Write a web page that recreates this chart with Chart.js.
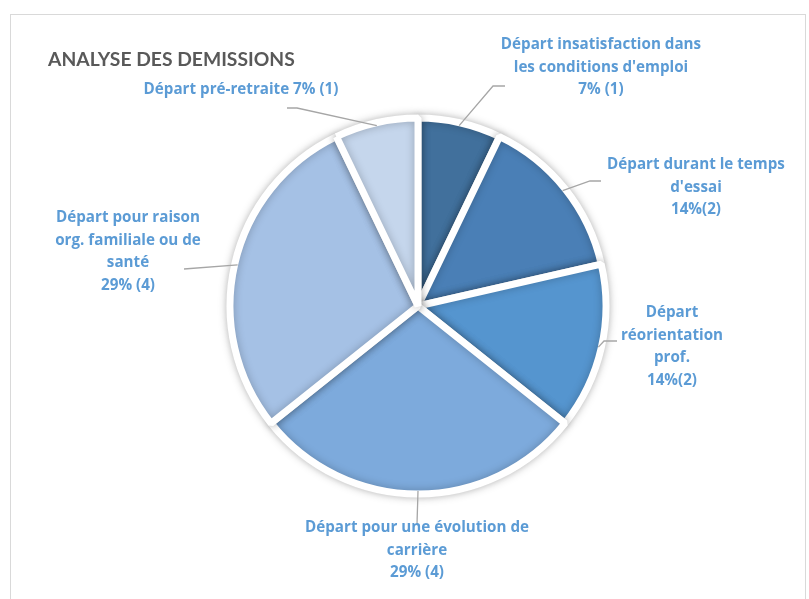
<!DOCTYPE html>
<html>
<head>
<meta charset="utf-8">
<script src="https://cdn.jsdelivr.net/npm/chart.js@4"></script>
<style>
  body { margin: 0; background: #fff; }
  #frame { position: absolute; left: 10px; top: 14px; width: 794px; height: 600px; border: 1px solid #D9D9D9; }
  #wrap { position: absolute; left: 0; top: 0; width: 809px; height: 599px; }
</style>
</head>
<body>
<div id="frame"></div>
<div id="wrap"><canvas id="chart"></canvas></div>
<script>
const title = 'ANALYSE DES DEMISSIONS';

const categories = [
  "Départ insatisfaction dans les conditions d'emploi",
  "Départ durant le temps d'essai",
  "Départ réorientation prof.",
  "Départ pour une évolution de carrière",
  "Départ pour raison org. familiale ou de santé",
  "Départ pré-retraite"
];
const counts = [1, 2, 2, 4, 4, 1];
const percentLabels = ['7% (1)', '14%(2)', '14%(2)', '29% (4)', '29% (4)', '7% (1)'];

// how each label is wrapped, as in the original
const labelLines = [
  ['Départ insatisfaction dans', "les conditions d'emploi", '7% (1)'],
  ['Départ durant le temps', "d'essai", '14%(2)'],
  ['Départ', 'réorientation', 'prof.', '14%(2)'],
  ['Départ pour une évolution de', 'carrière', '29% (4)'],
  ['Départ pour raison', 'org. familiale ou de', 'santé', '29% (4)'],
  ['Départ pré-retraite 7% (1)']
];

const colors = ['#41709C', '#4A7FB6', '#5595CF', '#7DAADC', '#A5C1E5', '#C5D6EC'];

// label placement: text centre x, first line y, leader elbow + end
const labelLayout = [
  { x: 601, y: 45, elbow: [493, 86], end: [505, 86] },
  { x: 696, y: 165, elbow: [590, 181], end: [601, 181] },
  { x: 672, y: 313, elbow: [604, 341], end: [617, 341] },
  { x: 417, y: 528, elbow: null, end: [417, 524] },
  { x: 128, y: 218, elbow: null, end: [184, 269] },
  { x: 241, y: 90, elbow: [297, 108], end: [287, 108] }
];

const shadowPlugin = {
  id: 'shadow',
  beforeDatasetsDraw(chart) {
    const ctx = chart.ctx;
    ctx.save();
    ctx.shadowColor = 'rgba(0,0,0,0.25)';
    ctx.shadowBlur = 8;
  },
  afterDatasetsDraw(chart) {
    chart.ctx.restore();
  }
};

const labelsPlugin = {
  id: 'outLabels',
  afterDraw(chart) {
    const ctx = chart.ctx;
    const arcs = chart.getDatasetMeta(0).data;
    ctx.save();

    // title
    ctx.font = "bold 19.3px Lato";
    ctx.fillStyle = '#595959';
    ctx.textAlign = 'left';
    ctx.textBaseline = 'middle';
    ctx.fillText(title, 48, 60);

    arcs.forEach((arc, i) => {
      const p = arc.getProps(['x', 'y', 'startAngle', 'endAngle', 'outerRadius']);
      const mid = (p.startAngle + p.endAngle) / 2;
      const r = p.outerRadius - 3;
      const sx = p.x + Math.cos(mid) * r;
      const sy = p.y + Math.sin(mid) * r;
      const lay = labelLayout[i];

      ctx.strokeStyle = '#A6A6A6';
      ctx.lineWidth = 1.3;
      ctx.beginPath();
      ctx.moveTo(sx, sy);
      if (lay.elbow) ctx.lineTo(lay.elbow[0], lay.elbow[1]);
      ctx.lineTo(lay.end[0], lay.end[1]);
      ctx.stroke();

      ctx.font = "bold 15.2px 'Open Sans'";
      ctx.fillStyle = '#5B9BD5';
      ctx.textAlign = 'center';
      labelLines[i].forEach((t, k) => {
        ctx.fillText(t, lay.x, lay.y + k * 22.5);
      });
    });
    ctx.restore();
  }
};

new Chart(document.getElementById('chart'), {
  type: 'pie',
  data: {
    labels: categories,
    datasets: [{
      data: counts,
      backgroundColor: colors,
      borderColor: '#FFFFFF',
      borderWidth: 7,
      radius: 188
    }]
  },
  options: {
    responsive: true,
    maintainAspectRatio: false,
    animation: false,
    events: [],
    layout: { padding: { left: 218, right: 191, top: 106, bottom: 93 } },
    plugins: {
      legend: { display: false },
      tooltip: { enabled: false }
    }
  },
  plugins: [shadowPlugin, labelsPlugin]
});
</script>
</body>
</html>
